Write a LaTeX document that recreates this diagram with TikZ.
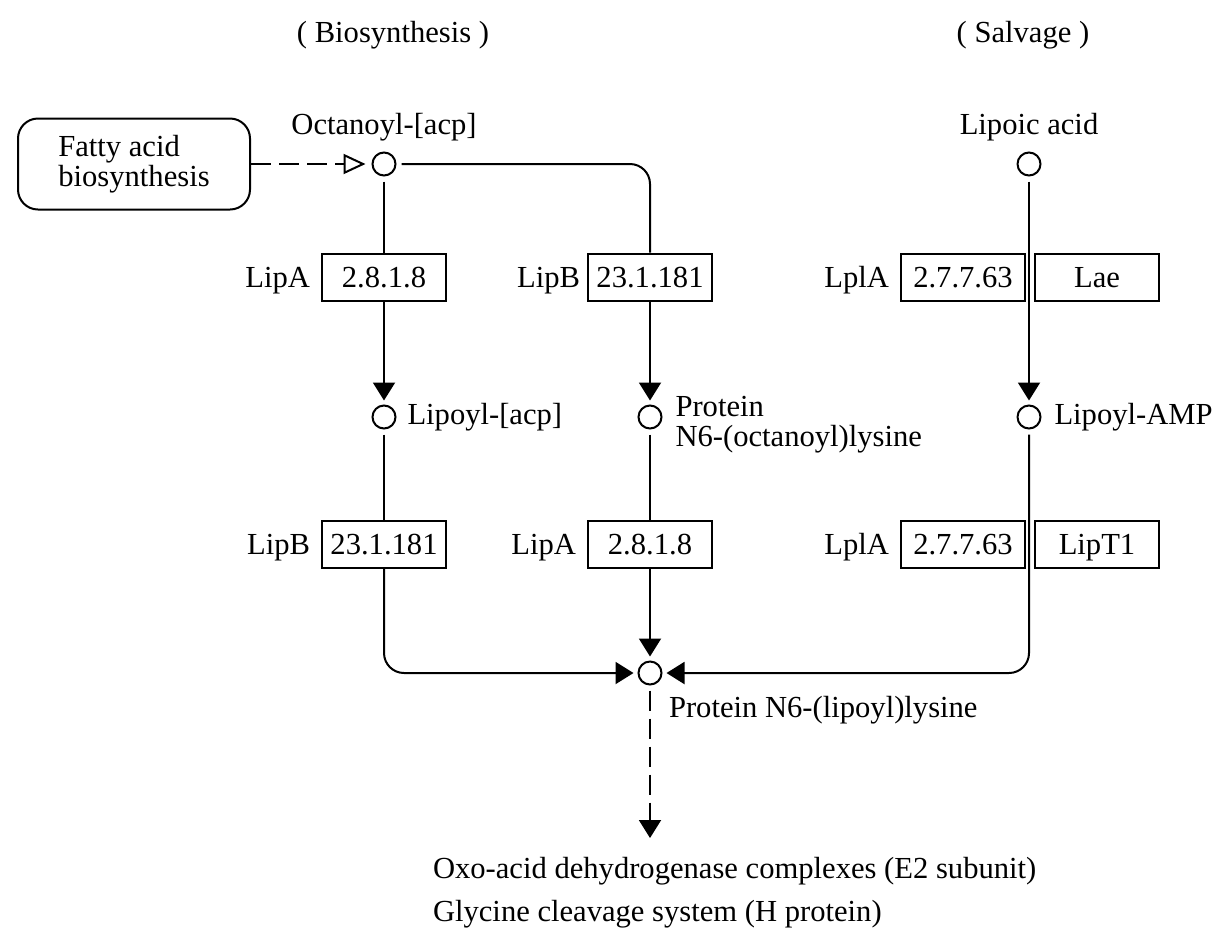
\documentclass[tikz,border=0pt]{standalone}
\usepackage{fontspec}
\setmainfont{Liberation Serif}
\usetikzlibrary{shapes, calc, arrows.meta, positioning}

\begin{document}
\begin{tikzpicture}[x=0.5pt, y=-0.5pt, line width=1pt,
  every node/.style={font=\fontsize{15.3}{13.5}\selectfont},
  met/.style={circle, draw, minimum size=11.5pt, inner sep=0pt},
  ec/.style={rectangle, draw, minimum width=62pt, minimum height=23.5pt, inner sep=0pt, text height=12pt, text depth=1.8pt},
  lbl/.style={inner sep=0pt},
  arr/.style={-{Triangle[length=9pt, width=11pt]}, shorten >=2pt},
  gap/.style={shorten <=2.5pt},
  dashline/.style={dash pattern=on 10pt off 4pt}]
\useasboundingbox (0,0) rectangle (1218,927);

\node[lbl] (tbio) at (393,35) {( Biosynthesis )};
\node[lbl] (tsal) at (1023,35) {( Salvage )};

\node[draw, rounded corners=10pt, minimum width=116pt, minimum height=45.5pt, align=left, inner sep=0pt] (fatty) at (134,164) {Fatty acid\\biosynthesis};

\node[met] (oct) at (384,164) {};
\node[lbl] (toct) at (384,127) {Octanoyl-[acp]};
\node[met] (lip) at (1029,164) {};
\node[lbl] (tlip) at (1029,127) {Lipoic acid};

\node[ec] (ecA1) at (384,277) {2.8.1.8};
\node[lbl, base left=5pt of ecA1] {LipA};
\node[ec] (ecB1) at (650,277) {23.1.181};
\node[lbl, base left=3pt of ecB1] {LipB};
\node[ec] (ecL1) at (963,277) {2.7.7.63};
\node[lbl, base left=5pt of ecL1] {LplA};
\node[ec] (lae) at (1097,277) {Lae};

\node[met] (lacp) at (384,417) {};
\node[lbl, right=5pt of lacp] {Lipoyl-[acp]};
\node[met] (pno) at (650,417) {};
\node[lbl, right=6pt of pno, yshift=-4pt, align=left, font=\fontsize{15.3}{15}\selectfont] {Protein\\N6-(octanoyl)lysine};
\node[met] (lamp) at (1029,417) {};
\node[lbl, right=6pt of lamp] {Lipoyl-AMP};

\node[ec] (ecB2) at (384,544) {23.1.181};
\node[lbl, base left=5pt of ecB2] {LipB};
\node[ec] (ecA2) at (650,544) {2.8.1.8};
\node[lbl, base left=5pt of ecA2] {LipA};
\node[ec] (ecL2) at (963,544) {2.7.7.63};
\node[lbl, base left=5pt of ecL2] {LplA};
\node[ec] (lipt) at (1097,544) {LipT1};

\node[met] (pnl) at (650,673) {};
\node[lbl, anchor=west] (tpnl) at (668,710) {Protein N6-(lipoyl)lysine};

\coordinate (tip) at (650,838);
\node[lbl, anchor=west, align=left] (tout) at (432,893) {Oxo-acid dehydrogenase complexes (E2 subunit)\\[6.5pt]Glycine cleavage system (H protein)};

\draw[dashline, -{Triangle[open, length=11pt, width=10pt]}, shorten >=3pt] (fatty) -- (oct);
\draw[gap] (oct) -- (ecA1);
\draw[gap, rounded corners=10pt] (oct) -- (oct -| ecB1) -- (ecB1);
\draw[arr] (ecA1) -- (lacp);
\draw[arr] (ecB1) -- (pno);
\draw[gap, arr] (lip) -- (lamp);
\draw[gap] (lacp) -- (ecB2);
\draw[gap] (pno) -- (ecA2);
\draw[arr, rounded corners=10pt] (ecB2) |- (pnl);
\draw[arr] (ecA2) -- (pnl);
\draw[gap, arr, rounded corners=10pt] (lamp) |- (pnl);
\draw[gap, dashline, -{Triangle[length=9pt, width=11pt]}] (pnl) -- (tip);
\end{tikzpicture}
\end{document}
